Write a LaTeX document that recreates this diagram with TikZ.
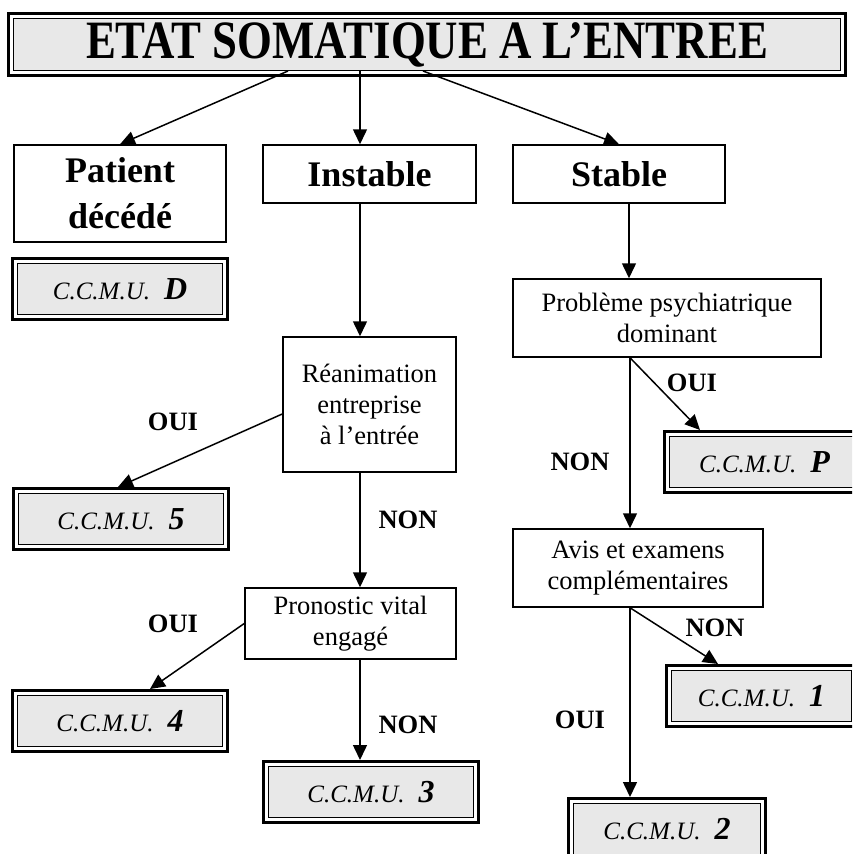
\documentclass[tikz,border=0pt]{standalone}
\usepackage{fontspec}
\setmainfont{Liberation Serif}
\usepackage{graphicx}
\usepackage{tikz}
\usetikzlibrary{arrows.meta,calc}
\definecolor{fondgris}{RGB}{232,232,232}

\begin{document}
\begin{tikzpicture}[x=1pt, y=-1pt,
  boite/.style={draw, line width=1.5pt, align=center, inner sep=0pt,
    font=\fontsize{26.5}{31}\selectfont},
  grande/.style={boite, font=\fontsize{36}{46}\selectfont\bfseries},
  cadre/.style={draw, line width=1.3pt, fill=fondgris, inner sep=0pt, outer sep=6.5pt,
    append after command={\pgfextra{\draw[line width=3pt]
      ([shift={(1.5,1.5)}]\tikzlastnode.north west) rectangle
      ([shift={(-1.5,-1.5)}]\tikzlastnode.south east);}}},
  ccmu/.style={cadre, minimum height=51pt, font=\fontsize{25}{30}\selectfont\itshape},
  fleche/.style={-{Triangle[length=15pt,width=14pt]}, line width=1.5pt},
  reponse/.style={font=\fontsize{26.5}{31}\selectfont\bfseries}
]
  \useasboundingbox (0,0) rectangle (852,854);
  \clip (0,0) rectangle (852,854);

  % Titre
  \node[cadre, minimum width=827pt, minimum height=52pt,
    font=\fontsize{54}{54}\selectfont\bfseries] (etat) at (427,44.5)
    {\scalebox{0.83}[1]{ETAT SOMATIQUE A L’ENTREE}};

  % Etats
  \node[grande, minimum width=212pt, minimum height=97pt] (decede) at (120,193.5) {Patient\\décédé};
  \node[grande, minimum width=213pt, minimum height=58pt] (instable) at (369.5,174) {Instable};
  \node[grande, minimum width=212pt, minimum height=58pt] (stable) at (619,174) {Stable};

  % Questions
  \node[boite, minimum width=173pt, minimum height=135pt] (reanim) at (369.5,404.5) {Réanimation\\entreprise\\à l’entrée};
  \node[boite, minimum width=211pt, minimum height=71pt] (pronostic) at (350.5,623.5) {Pronostic vital\\engagé};
  \node[boite, minimum width=308pt, minimum height=78pt] (psy) at (667,318) {Problème psychiatrique\\dominant};
  \node[boite, minimum width=250pt, minimum height=78pt] (avis) at (638,568) {Avis et examens\\complémentaires};

  % Classes C.C.M.U.
  \node[ccmu, minimum width=205pt] (cD) at (120,289) {C.C.M.U.\hspace{14pt}{\bfseries\fontsize{32}{32}\selectfont D}};
  \node[ccmu, minimum width=205pt] (c5) at (121,519) {C.C.M.U.\hspace{14pt}{\bfseries\fontsize{32}{32}\selectfont 5}};
  \node[ccmu, minimum width=205pt] (c4) at (120,721) {C.C.M.U.\hspace{14pt}{\bfseries\fontsize{32}{32}\selectfont 4}};
  \node[ccmu, minimum width=205pt] (c3) at (371,792) {C.C.M.U.\hspace{14pt}{\bfseries\fontsize{32}{32}\selectfont 3}};
  \node[ccmu, minimum width=190pt] (cP) at (764.5,462) {C.C.M.U.\hspace{14pt}{\bfseries\fontsize{32}{32}\selectfont P}};
  \node[ccmu, minimum width=180pt] (c1) at (761.5,696) {C.C.M.U.\hspace{14pt}{\bfseries\fontsize{32}{32}\selectfont 1}};
  \node[ccmu, minimum width=187pt] (c2) at (667,829) {C.C.M.U.\hspace{14pt}{\bfseries\fontsize{32}{32}\selectfont 2}};

  % Reponses
  \node[reponse] (oui1) at (173,422) {OUI};
  \node[reponse] (non1) at (408,520) {NON};
  \node[reponse] (oui2) at (173,624) {OUI};
  \node[reponse] (non2) at (408,725) {NON};
  \node[reponse] (oui3) at (692,383) {OUI};
  \node[reponse] (non3) at (580,462) {NON};
  \node[reponse] (non4) at (715,628) {NON};
  \node[reponse] (oui4) at (580,720) {OUI};

  % Connexions
  \draw[fleche] ([xshift=-139pt,yshift=6pt]etat.south) -- (decede.north);
  \draw[fleche] ([xshift=-67pt,yshift=6pt]etat.south) -- ([xshift=-9.5pt]instable.north);
  \draw[fleche] ([xshift=-4pt,yshift=6pt]etat.south) -- (stable.north);
  \draw[fleche] ([xshift=-9.5pt]instable.south) -- ([xshift=-9.5pt]reanim.north);
  \draw[fleche] ([yshift=-9.5pt]reanim.west) -- ([xshift=-3pt]c5.north);
  \draw[fleche] ([xshift=-9.5pt]reanim.south) -- ([xshift=9.5pt]pronostic.north);
  \draw[fleche] (pronostic.west) -- ([xshift=30pt]c4.north);
  \draw[fleche] ([xshift=9.5pt]pronostic.south) -- ([xshift=-11pt]c3.north);
  \draw[fleche] ([xshift=10pt]stable.south) -- ([xshift=-38pt]psy.north);
  \draw[fleche] ([xshift=-37pt]psy.south) -- ([xshift=37pt]cP.north west);
  \draw[fleche] ([xshift=-37pt]psy.south) -- ([xshift=-8pt]avis.north);
  \draw[fleche] ([xshift=-8pt]avis.south) -- ([xshift=53pt]c1.north west);
  \draw[fleche] ([xshift=-8pt]avis.south) -- ([xshift=-37pt]c2.north);
\end{tikzpicture}
\end{document}
